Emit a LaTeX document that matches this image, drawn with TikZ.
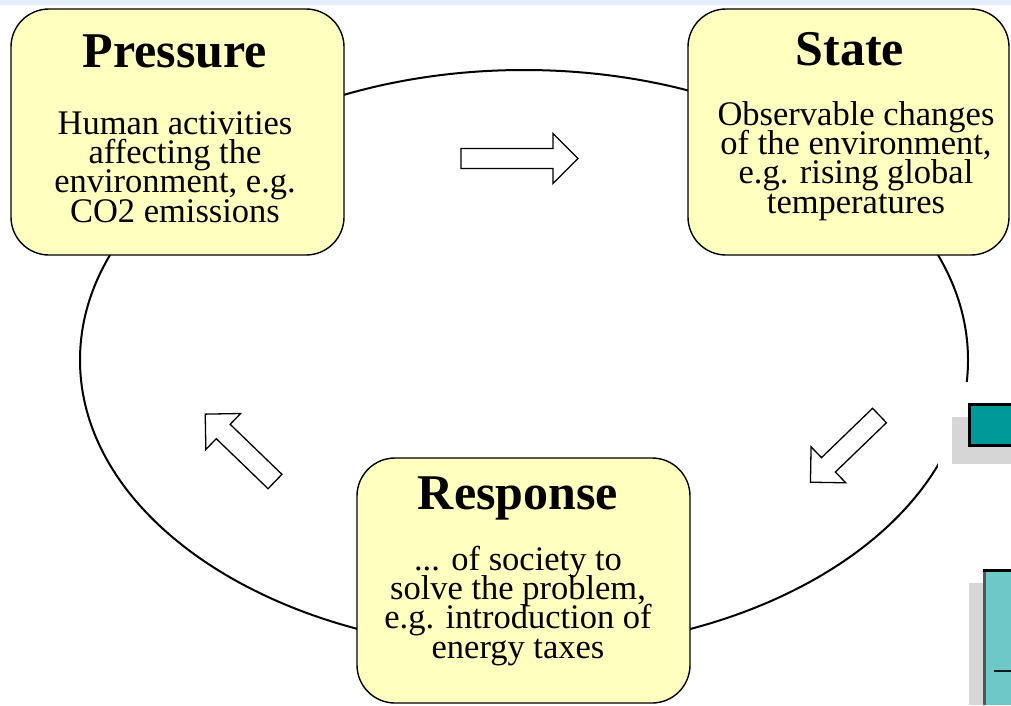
\documentclass[tikz,border=0pt]{standalone}
\usepackage{fontspec}
\setmainfont{Liberation Serif}
\definecolor{boxyellow}{RGB}{255,255,192}
\definecolor{bandblue}{RGB}{228,238,250}
\definecolor{shadowgray}{RGB}{214,214,214}
\definecolor{tealdark}{RGB}{0,153,153}
\definecolor{teallight}{RGB}{110,200,200}
\definecolor{edgegray}{RGB}{85,85,85}
% body text: fixed baseline distance, no extra \lineskip
\newcommand\bodyfont{\fontsize{34.5}{29.3}\selectfont\lineskiplimit=-100pt\relax}
\begin{document}
\begin{tikzpicture}[x=1pt,y=-1pt,
  box/.style={draw=black, line width=1.4pt, fill=boxyellow, rounded corners=38pt,
    inner sep=0pt, minimum width=#1},
  heading/.style={font=\bfseries\fontsize{50}{50}\selectfont, anchor=base, inner sep=0pt},
  % anchor=base of a multi-line node sits on its last line
  body/.style={font=\bodyfont, align=center, anchor=base, inner sep=0pt},
  cycleline/.style={line width=2pt},
  hollow/.style={draw=black, line width=1.3pt, fill=white, line join=miter},
  pics/blockarrow/.style={code={
    \draw[hollow] (0,-10) -- (#1-25,-10) -- (#1-25,-25) -- (#1,0)
      -- (#1-25,25) -- (#1-25,10) -- (0,10) -- cycle;}}
]
\path[use as bounding box] (0,0) rectangle (1011,705);
\fill[white] (0,0) rectangle (1011,705);
\fill[bandblue] (0,0) rectangle (1011,5);

% the cycle
\draw[cycleline] (524,360) ellipse [x radius=444pt, y radius=290pt];
\fill[white] (938,382) rectangle (1011,705);

% window fragments at the right edge
\fill[shadowgray] (952,417) rectangle (1011,464);
\fill[tealdark] (968,403) rectangle (1011,447);
\draw[line width=2.5pt] (1011,404.5) -- (969.5,404.5) -- (969.5,445.5) -- (1011,445.5);
\fill[shadowgray] (969,583) rectangle (983,705);
\fill[teallight] (983,569) rectangle (1011,705);
\draw[line width=3pt, edgegray] (984.5,570) -- (984.5,705);
\draw[line width=3pt] (983,570.5) -- (1011,570.5);
\draw[line width=2.5pt, black!80!teal] (994,671) -- (1011,671);

% the three stages
\node[box=333pt, minimum height=246pt] (pressure) at (177.5,132) {};
\node[box=321pt, minimum height=246pt] (state) at (848.5,132) {};
\node[box=333pt, minimum height=245pt] (response) at (523.5,580.5) {};

\node[heading] (pressuretitle) at (175,67) {Pressure};
\node[body] (pressuretext) at (175,222) {Human activities\\affecting the\\environment, e.g.\\CO2 emissions};

\node[heading] (statetitle) at (850,65) {State};
\node[body] (statetext) at (856,213) {Observable changes\\of the environment,\\e.g. rising global\\temperatures};

\node[heading] (responsetitle) at (518,509) {Response};
\node[body] (responsetext) at (518,658) {... of society to\\solve the problem,\\e.g. introduction of\\energy taxes};

% direction of the cycle
\pic at (461,158.5) {blockarrow=117};
\pic[rotate=224] at (879.5,415.5) {blockarrow=96};
\pic[rotate=136] at (275,481.5) {blockarrow=97};
\end{tikzpicture}
\end{document}
